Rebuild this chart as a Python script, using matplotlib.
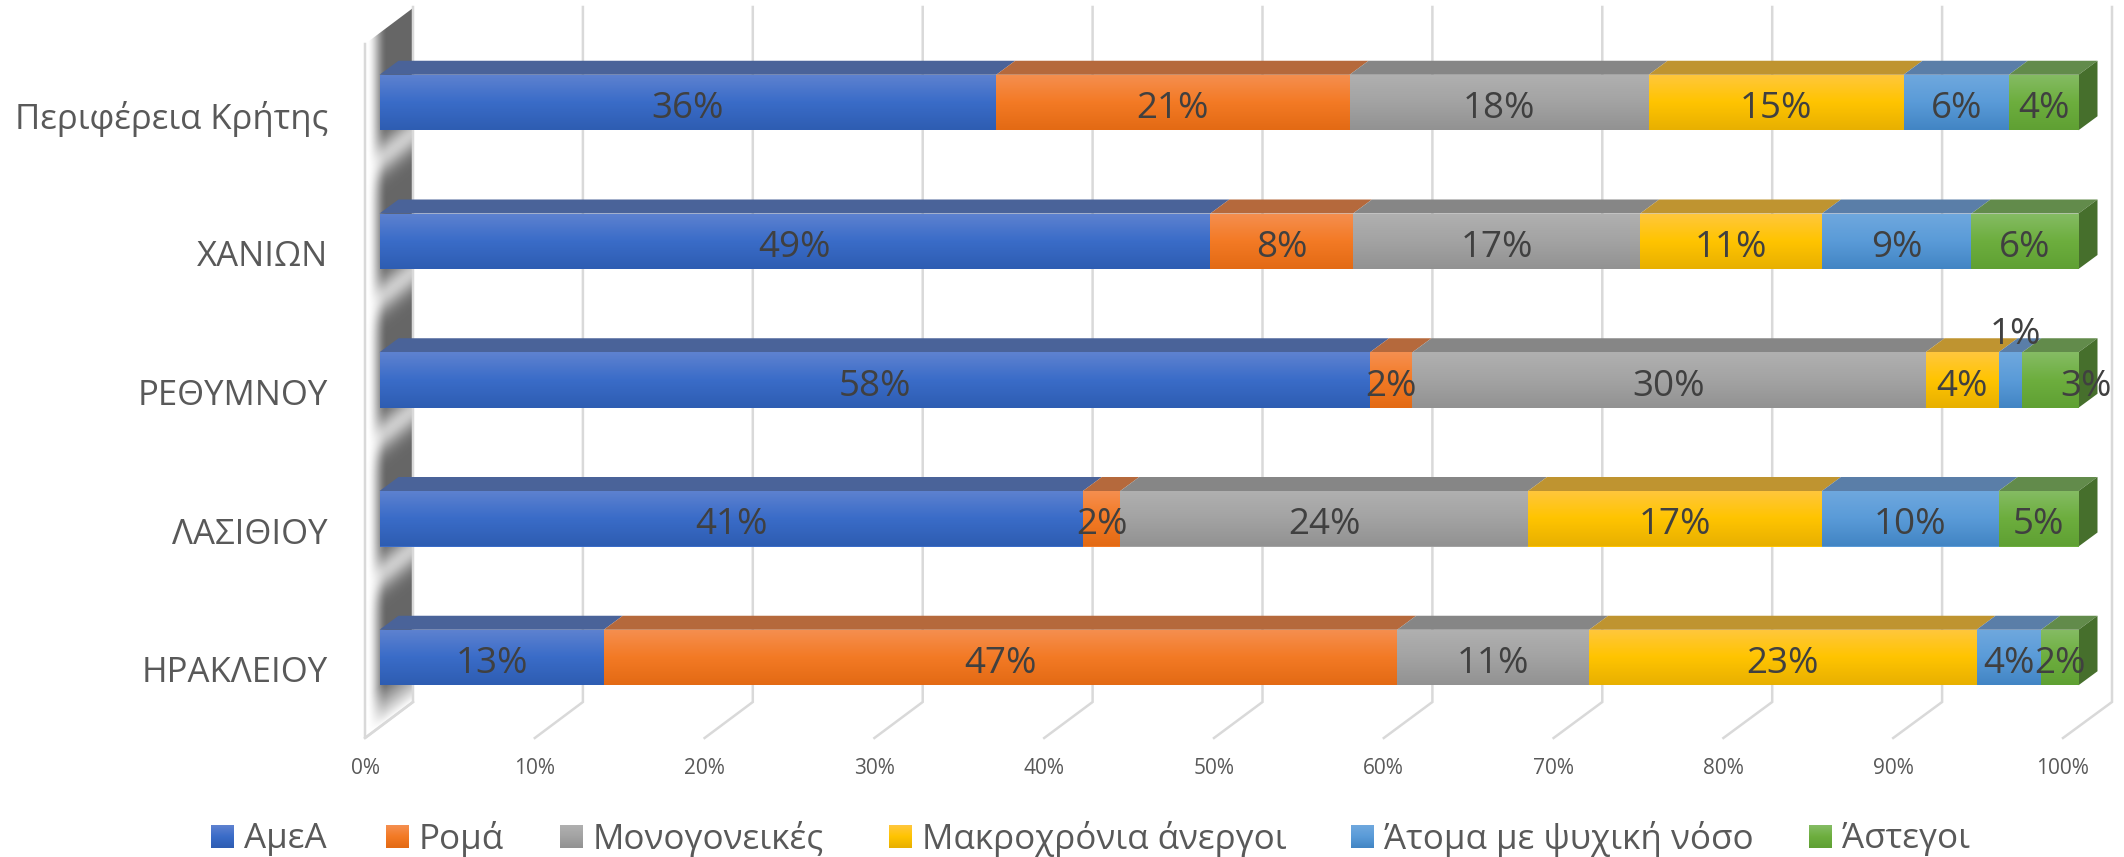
import numpy as np
import matplotlib
matplotlib.use("Agg")
import matplotlib.pyplot as plt
from matplotlib.colors import LinearSegmentedColormap
from matplotlib.patches import Polygon

plt.rcParams['font.family'] = ['Open Sans', 'DejaVu Sans']

categories = ['Περιφέρεια Κρήτης', 'ΧΑΝΙΩΝ', 'ΡΕΘΥΜΝΟΥ', 'ΛΑΣΙΘΙΟΥ', 'ΗΡΑΚΛΕΙΟΥ']
series_names = ['ΑμεΑ', 'Ρομά', 'Μονογονεικές', 'Μακροχρόνια άνεργοι', 'Άτομα με ψυχική νόσο', 'Άστεγοι']
amea = [36.3, 48.9, 58.3, 41.4, 13.2]
roma = [20.8, 8.4, 2.5, 2.2, 46.7]
monogoneikes = [17.6, 16.9, 30.2, 24.0, 11.3]
anergoi = [15.0, 10.7, 4.3, 17.3, 22.8]
nosos = [6.2, 8.8, 1.4, 10.4, 3.8]
astegoi = [4.1, 6.3, 3.3, 4.7, 2.2]
series = [amea, roma, monogoneikes, anergoi, nosos, astegoi]
tick_values = list(range(0, 101, 10))

front_stops = [('#5E82D0', '#3A6CC8', '#2E5DB2'), ('#F58F50', '#F37A25', '#E36A14'),
               ('#B0B0B0', '#A3A3A3', '#929292'), ('#FFC73D', '#FFC400', '#E8B000'),
               ('#6FA8DE', '#5A9BD8', '#4285C4'), ('#85BC64', '#6DAE3E', '#5FA033')]
top_colors = ['#4A6399', '#B5693C', '#868686', '#BF9430', '#5A7EA8', '#628B4B']

W, H = 2124, 857
fig = plt.figure(figsize=(W / 100, H / 100), dpi=100, facecolor='white')

# pixel-space layer for wall, floor and legend
bg = fig.add_axes([0, 0, 1, 1])
bg.set_xlim(0, W)
bg.set_ylim(H, 0)
bg.axis('off')

GRID = '#D9D9D9'
fx0, fx100, bx0, bx100 = 365, 2063, 413, 2112
# side wall shading: dark, with a soft light streak between neighbouring bars
xs = np.linspace(365, 413, 96)
ys = np.linspace(0, 745, 745)
X, Y = np.meshgrid(xs, ys)
U = (X - 365) / 48
streak = np.zeros_like(X)
for k in range(4):
    T = (Y + 38 * U - (171 + 138.75 * k)) / 138.75
    streak += np.exp(-(T / 0.13) ** 2)
shade = 0.40 + 0.40 * streak
ramp = np.clip((U - 0.04) / 0.42, 0, 1)
ramp = ramp * ramp * (3 - 2 * ramp)
tone = 1 - (1 - shade) * ramp
fade = np.clip((738 - 36 * U - Y) / 40, 0, 1)
tone = 1 - (1 - tone) * fade
wall = bg.imshow(tone, extent=[365, 413, 745, 0], cmap='gray', vmin=0, vmax=1,
                 aspect='auto', interpolation='bilinear', zorder=1)
wall_clip = Polygon([(365, 44), (413, 8), (413, 702), (365, 738)], transform=bg.transData,
                    fc='none', ec='none')
bg.add_patch(wall_clip)
wall.set_clip_path(wall_clip)
bg.set_xlim(0, W)
bg.set_ylim(H, 0)

for v in tick_values:
    fx = fx0 + (fx100 - fx0) * v / 100
    bx = bx0 + (bx100 - bx0) * v / 100
    bg.plot([bx, bx, fx], [7, 702, 738], color=GRID, lw=1.8, zorder=2, solid_joinstyle='miter')
    bg.text(fx, 769, f'{v}%', ha='center', va='center', fontsize=15, color='#595959')
bg.plot([365, 365, 413], [44, 738, 702], color=GRID, lw=1.8, zorder=2)

# chart layer: x is the percentage, y the category position
ax = fig.add_axes([379.5 / W, 0, (2078.5 - 379.5) / W, 1])
ax.patch.set_alpha(0)
ax.axis('off')
y0, step = 102.5, 138.75
ylim = ((H - y0) / step, -y0 / step)
ax.set_xlim(0, 100)
ax.set_ylim(*ylim)
ax.set_autoscale_on(False)
dx = 19 / 16.99
dy = 14 / step
bh = 55.5 / step
ypos = np.arange(len(categories))

left = np.zeros(len(categories))
for s, vals in enumerate(series):
    vals = np.array(vals)
    bars = ax.barh(ypos, vals, left=left, height=bh, color=front_stops[s][1], zorder=4)
    cmap = LinearSegmentedColormap.from_list('f', front_stops[s])
    for b, yy, l, v in zip(bars, ypos, left, vals):
        yt = yy - bh / 2
        ax.add_patch(Polygon([(l, yt), (l + v, yt), (l + v + dx, yt - dy), (l + dx, yt - dy)],
                             fc=top_colors[s], ec='none', zorder=3, clip_on=False))
        im = ax.imshow(np.linspace(0, 1, 64).reshape(-1, 1), extent=[l, l + v, yy + bh / 2, yy - bh / 2],
                       cmap=cmap, aspect='auto', interpolation='bilinear', zorder=4.5)
        im.set_clip_path(b)
    left = left + vals

side_cmap = LinearSegmentedColormap.from_list('s', ['#527F3A', '#3A661F'])
for yy, total in zip(ypos, left):
    yt, yb = yy - bh / 2, yy + bh / 2
    side = Polygon([(total, yt), (total + dx, yt - dy), (total + dx, yb - dy), (total, yb)],
                   fc='#466F2C', ec='none', zorder=3, clip_on=False)
    ax.add_patch(side)
    im = ax.imshow(np.linspace(0, 1, 64).reshape(-1, 1), extent=[total, total + dx, yb, yt - dy],
                   cmap=side_cmap, aspect='auto', interpolation='bilinear', zorder=3.5)
    im.set_clip_box(None)
    im.set_clip_path(side)
ax.set_xlim(0, 100)
ax.set_ylim(*ylim)

# data labels; two of them were moved by hand in the original
moved = {(2, 4): (5, 52), (2, 5): (36, 0)}
left = np.zeros(len(categories))
for s, vals in enumerate(series):
    for i, v in enumerate(vals):
        off = moved.get((i, s), (0, 0))
        ax.annotate(f'{v:.0f}%', (left[i] + v / 2, ypos[i]), xytext=(off[0] * 0.72, (off[1] - 2) * 0.72),
                    textcoords='offset points', ha='center', va='center_baseline', fontsize=26.5,
                    color='#404040', zorder=6, annotation_clip=False)
    left = left + np.array(vals)

for yy, c in zip(ypos, categories):
    ax.annotate(c, (0, yy), xytext=(-51.5 * 0.72, -12 * 0.72), textcoords='offset points',
                ha='right', va='center_baseline', fontsize=25, color='#595959', annotation_clip=False)

# legend
swatch_x = [211, 386, 560, 889, 1351, 1809]
for sx, name, stops in zip(swatch_x, series_names, front_stops):
    cmap = LinearSegmentedColormap.from_list('l', stops)
    bg.imshow(np.linspace(0, 1, 32).reshape(-1, 1), extent=[sx, sx + 23, 848, 825], cmap=cmap,
              aspect='auto', zorder=3)
    bg.text(sx + 33, 835, name, ha='left', va='center_baseline', fontsize=25.2, color='#595959')
bg.set_xlim(0, W)
bg.set_ylim(H, 0)

fig.savefig('out.png', dpi=100)
